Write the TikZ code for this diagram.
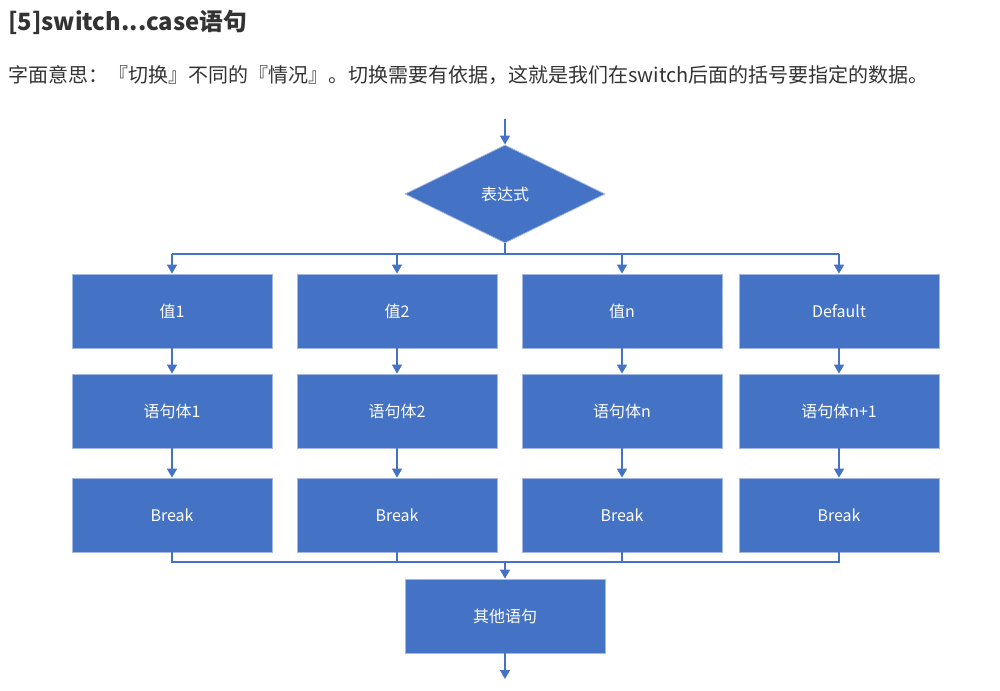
\documentclass[tikz,border=0pt]{standalone}
\usepackage{fontspec}
\setmainfont{Noto Sans CJK SC}
\usetikzlibrary{arrows.meta,shapes.geometric}
\definecolor{ob}{HTML}{4472C4}
\definecolor{obd}{HTML}{A3B8E2}
\definecolor{tx}{HTML}{333333}
\begin{document}
\begin{tikzpicture}[x=1pt,y=-1pt,
  box/.style={rectangle,fill=ob,draw=obd,line width=0.8pt,minimum width=200pt,minimum height=74pt,inner sep=0pt,text=white,font=\fontsize{16}{19}\selectfont},
  dia/.style={diamond,fill=ob,draw=obd,line width=0.8pt,minimum width=200pt,minimum height=98pt,inner sep=0pt,aspect=2,text=white,font=\fontsize{16}{19}\selectfont},
  conn/.style={draw=ob,line width=1.5pt},
  arr/.style={conn,-{Triangle[width=10pt,length=9pt]}}]
\useasboundingbox (0,0) rectangle (1000,690);
\node[anchor=base west,text=tx,font=\fontsize{23.8}{28}\selectfont\bfseries,inner sep=0pt] (title) at (8,30.5) {[5]switch...case语句};
\node[anchor=base west,text=tx,font=\fontsize{20}{24}\selectfont,inner sep=0pt] (sub) at (8,83) {字面意思：『切换』不同的『情况』。切换需要有依据，这就是我们在switch后面的括号要指定的数据。};
\node[dia] (d) at (505,194) {表达式};
\node[box] (v1) at (172,311) {值1};
\node[box] (v2) at (397,311) {值2};
\node[box] (vn) at (622,311) {值n};
\node[box] (vd) at (839,311) {Default};
\node[box] (s1) at (172,411) {语句体1};
\node[box] (s2) at (397,411) {语句体2};
\node[box] (sn) at (622,411) {语句体n};
\node[box] (sd) at (839,411) {语句体n+1};
\node[box] (b1) at (172,515) {Break};
\node[box] (b2) at (397,515) {Break};
\node[box] (bn) at (622,515) {Break};
\node[box] (bd) at (839,515) {Break};
\node[box] (o) at (505,616) {其他语句};
\coordinate (start) at (505,119);
\coordinate (split) at (505,254);
\coordinate (merge) at (505,562);
\coordinate (end) at (505,679);
\draw[arr] (start) -- (d.north);
\draw[conn] (d.south) -- (split);
\draw[conn] (v1.north |- split) -- (vd.north |- split);
\foreach \n in {v1,v2,vn,vd} \draw[arr] (\n.north |- split) -- (\n.north);
\draw[arr] (v1) -- (s1); \draw[arr] (v2) -- (s2); \draw[arr] (vn) -- (sn); \draw[arr] (vd) -- (sd);
\draw[arr] (s1) -- (b1); \draw[arr] (s2) -- (b2); \draw[arr] (sn) -- (bn); \draw[arr] (sd) -- (bd);
\draw[conn] (b1.south) -- (b1.south |- merge) -- (bd.south |- merge) -- (bd.south);
\draw[conn] (b2.south) -- (b2.south |- merge);
\draw[conn] (bn.south) -- (bn.south |- merge);
\draw[arr] (merge) -- (o.north);
\draw[arr] (o.south) -- (end);
\end{tikzpicture}
\end{document}
